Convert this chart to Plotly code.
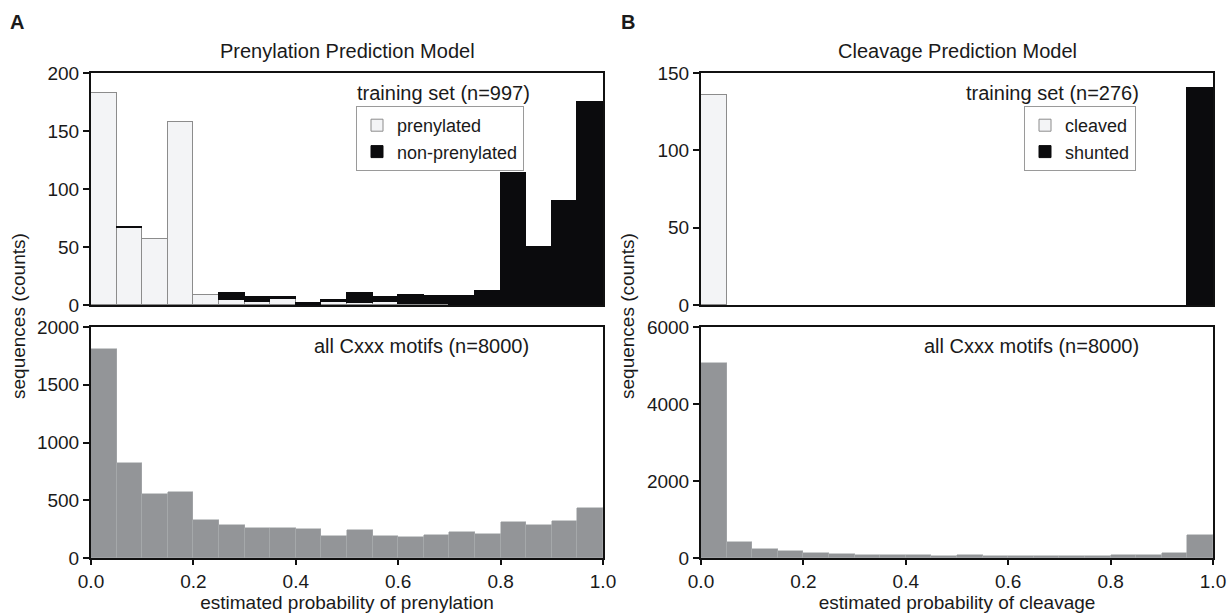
import plotly.graph_objects as go
from plotly.subplots import make_subplots

# ---------------- data ----------------
bin_starts = [0.00, 0.05, 0.10, 0.15, 0.20, 0.25, 0.30, 0.35, 0.40, 0.45,
              0.50, 0.55, 0.60, 0.65, 0.70, 0.75, 0.80, 0.85, 0.90, 0.95]
bin_width = 0.05

# Prenylation model, training set (n=997)
prenylated = [183, 66, 57, 158, 9, 4, 3, 5, 0, 3,
              2, 3, 1, 1, 0, 0, 0, 0, 0, 0]
non_prenylated = [0, 1, 0, 0, 0, 6, 4, 2, 2, 1,
                  8, 4, 8, 7, 8, 12, 114, 50, 90, 175]
# Prenylation model, all Cxxx motifs (n=8000)
prenyl_all = [1810, 819, 555, 569, 330, 282, 256, 264, 250, 187,
              239, 193, 184, 201, 224, 204, 316, 282, 322, 434]

# Cleavage model, training set (n=276)
cleaved = [136, 0, 0, 0, 0, 0, 0, 0, 0, 0,
           0, 0, 0, 0, 0, 0, 0, 0, 0, 0]
shunted = [0, 0, 0, 0, 0, 0, 0, 0, 0, 0,
           0, 0, 0, 0, 0, 0, 0, 0, 0, 140]
# Cleavage model, all Cxxx motifs (n=8000)
cleave_all = [5069, 405, 224, 181, 129, 103, 86, 78, 69, 60,
              69, 60, 60, 60, 60, 52, 69, 86, 121, 586]

x_ticks = [0.0, 0.2, 0.4, 0.6, 0.8, 1.0]

# ---------------- styles ----------------
FONT = "Liberation Sans, Arial, Helvetica, sans-serif"
TXT = "#1a1a1a"
LIGHT = "#f3f4f6"
LIGHT_LINE = "#8c8c8c"
DARK = "#0b0b0d"
GREY = "#939598"
W, H = 1229, 613


def nz(vals):
    return [v if v else None for v in vals]


fig = make_subplots(rows=2, cols=2)

common = dict(x=bin_starts, width=[bin_width] * len(bin_starts), offset=0)

# top-left
fig.add_trace(go.Bar(y=nz(prenylated), name="prenylated",
                     marker=dict(color=LIGHT, line=dict(color=LIGHT_LINE, width=1)),
                     legend="legend", **common), row=1, col=1)
fig.add_trace(go.Bar(y=nz(non_prenylated), name="non-prenylated",
                     marker=dict(color=DARK, line=dict(color=DARK, width=1)),
                     legend="legend", **common), row=1, col=1)
# bottom-left
fig.add_trace(go.Bar(y=prenyl_all, name="all Cxxx motifs", showlegend=False,
                     marker=dict(color=GREY, line=dict(color="#a9abae", width=0.6)),
                     **common), row=2, col=1)
# top-right
fig.add_trace(go.Bar(y=nz(cleaved), name="cleaved",
                     marker=dict(color=LIGHT, line=dict(color=LIGHT_LINE, width=1)),
                     legend="legend2", **common), row=1, col=2)
fig.add_trace(go.Bar(y=nz(shunted), name="shunted",
                     marker=dict(color=DARK, line=dict(color=DARK, width=1)),
                     legend="legend2", **common), row=1, col=2)
# bottom-right
fig.add_trace(go.Bar(y=cleave_all, name="all Cxxx motifs ", showlegend=False,
                     marker=dict(color=GREY, line=dict(color="#a9abae", width=0.6)),
                     **common), row=2, col=2)


def px_x(p):
    return p / W


def px_y(p):
    return 1 - p / H


left_dom = [px_x(91), px_x(603)]
right_dom = [px_x(701), px_x(1213)]
top_dom = [px_y(305), px_y(73)]
bot_dom = [px_y(558), px_y(327)]

axis_common = dict(showline=True, linecolor="#111", linewidth=2, mirror=True,
                   showgrid=False, zeroline=False, automargin=False,
                   tickfont=dict(family=FONT, size=19, color=TXT))

x_top = dict(axis_common, range=[0, 1], ticks="", showticklabels=False)
x_bot = dict(axis_common, range=[0, 1], ticks="outside", ticklen=5, tickwidth=1.5,
             tickcolor="#111", tickvals=x_ticks, tickformat=".1f")
y_common = dict(axis_common, ticks="outside", ticklen=6, tickwidth=1.5, tickcolor="#111")

fig.update_layout(
    xaxis=dict(x_top, domain=left_dom, anchor="y"),
    yaxis=dict(y_common, domain=top_dom, range=[0, 200], dtick=50, anchor="x"),
    xaxis2=dict(x_top, domain=right_dom, anchor="y2"),
    yaxis2=dict(y_common, domain=top_dom, range=[0, 150], dtick=50, anchor="x2"),
    xaxis3=dict(x_bot, domain=left_dom, anchor="y3",
                title=dict(text="estimated probability of prenylation",
                           font=dict(family=FONT, size=19, color=TXT), standoff=0)),
    yaxis3=dict(y_common, domain=bot_dom, range=[0, 2000], dtick=500, anchor="x3"),
    xaxis4=dict(x_bot, domain=right_dom, anchor="y4",
                title=dict(text="estimated probability of cleavage",
                           font=dict(family=FONT, size=19, color=TXT), standoff=0)),
    yaxis4=dict(y_common, domain=bot_dom, range=[0, 6000], dtick=2000, anchor="x4"),
)

legend_common = dict(xanchor="left", yanchor="top",
                     bordercolor="#9a9a9a", borderwidth=1, bgcolor="white",
                     font=dict(family=FONT, size=18, color=TXT),
                     itemwidth=30, tracegroupgap=0, traceorder="normal")

fig.update_layout(
    width=W, height=H,
    margin=dict(l=0, r=0, t=0, b=0, autoexpand=False),
    paper_bgcolor="white", plot_bgcolor="white",
    barmode="stack", bargap=0,
    font=dict(family=FONT, size=19, color=TXT),
    legend=dict(legend_common, x=px_x(356), y=px_y(106)),
    legend2=dict(legend_common, x=px_x(1024), y=px_y(106)),
)


def ann(text, x, y, size=20, xanchor="center", yanchor="middle", angle=0, bold=False):
    fig.add_annotation(text=f"<b>{text}</b>" if bold else text,
                       x=px_x(x), y=px_y(y), xref="paper", yref="paper",
                       xanchor=xanchor, yanchor=yanchor, textangle=angle,
                       showarrow=False, font=dict(family=FONT, size=size, color=TXT))


ann("A", 8, 22, size=20, xanchor="left", bold=True)
ann("B", 619, 22, size=20, xanchor="left", bold=True)
ann("Prenylation Prediction Model", 347, 51)
ann("Cleavage Prediction Model", 957, 51)
ann("training set (n=997)", 532, 93, xanchor="right")
ann("training set (n=276)", 1141, 93, xanchor="right")
ann("all Cxxx motifs (n=8000)", 531, 346, xanchor="right")
ann("all Cxxx motifs (n=8000)", 1141, 346, xanchor="right")
ann("sequences (counts)", 18, 316, size=19, angle=-90)
ann("sequences (counts)", 627, 316, size=19, angle=-90)

fig.write_html(
    "out.html",
    config={"displayModeBar": False},
    post_script="document.body.style.margin='0';document.body.style.overflow='hidden';",
)
